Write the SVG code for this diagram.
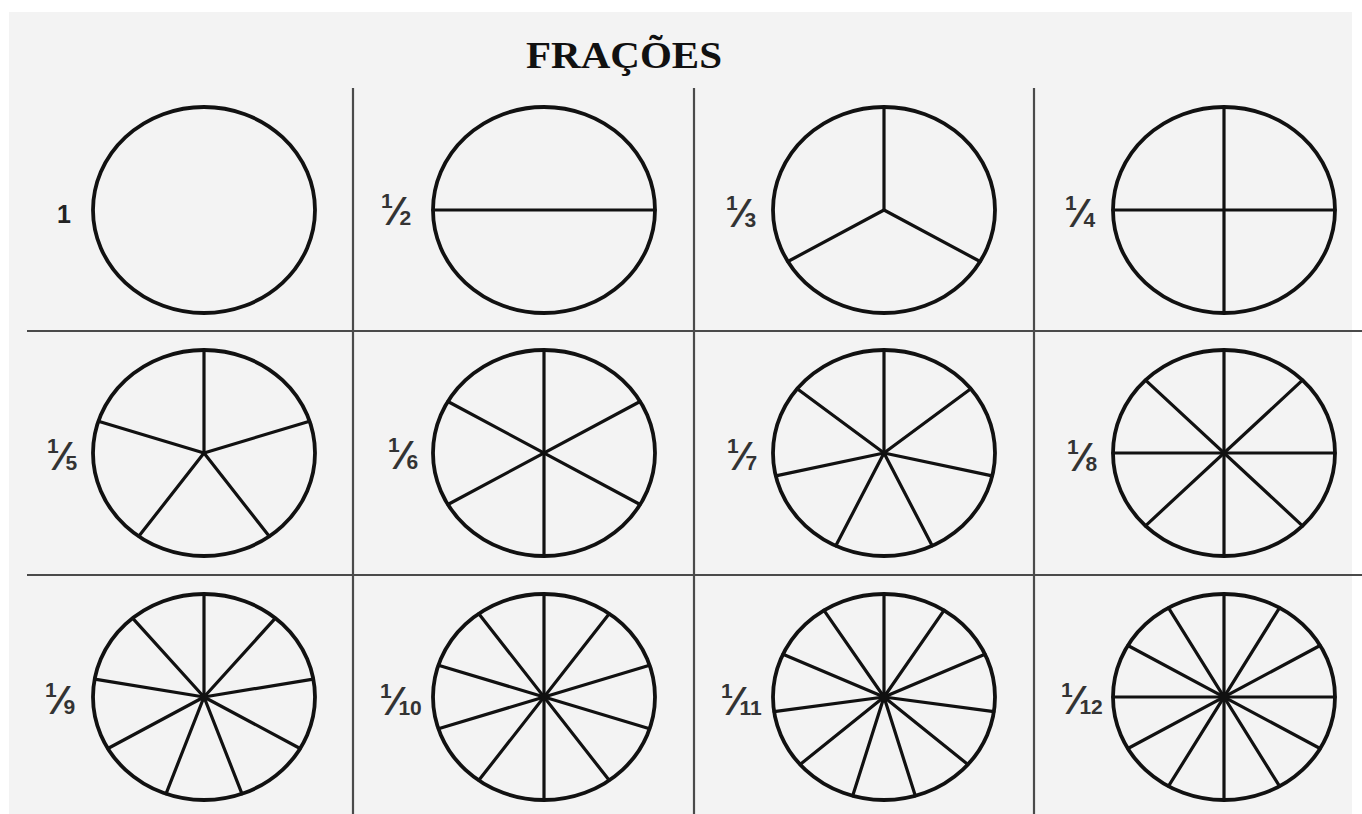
<svg xmlns="http://www.w3.org/2000/svg" width="1362" height="814" viewBox="0 0 1362 814">
<style>
.bg{fill:#f3f3f3}
.grid{stroke:#4a4a4a;stroke-width:2.2;fill:none}
.pie{fill:none;stroke:#111;stroke-width:3.8}
.sp{stroke:#111;stroke-width:3.2;stroke-linecap:round}
.title{font-family:"Liberation Serif",serif;font-weight:bold;font-size:38px;fill:#111}
.one{font-family:"Liberation Sans",sans-serif;font-weight:bold;font-size:25px;fill:#222}
.lbl{font-family:"Liberation Sans",sans-serif;font-weight:bold;font-size:21px;fill:#333}
.sl{font-size:40px}
</style>
<rect width="1362" height="814" fill="#ffffff"/>
<rect class="bg" x="9" y="12" width="1343" height="802"/>
<text class="title" x="624" y="68" text-anchor="middle" textLength="196" lengthAdjust="spacingAndGlyphs">FRAÇÕES</text>
<g id="grid">
<line class="grid" x1="353" y1="88" x2="353" y2="814"/>
<line class="grid" x1="694" y1="88" x2="694" y2="814"/>
<line class="grid" x1="1034" y1="88" x2="1034" y2="814"/>
<line class="grid" x1="27" y1="331" x2="1362" y2="331"/>
<line class="grid" x1="27" y1="575" x2="1362" y2="575"/>
</g>
<g id="n1">
<ellipse class="pie" cx="204" cy="210" rx="111" ry="103"/>
<text class="one" x="57" y="223">1</text>
</g>
<g id="n2">
<ellipse class="pie" cx="544" cy="210" rx="111" ry="103"/>
<line class="sp" x1="433" y1="210" x2="655" y2="210"/>
<text class="lbl" x="381" y="208">1<tspan class="sl" dy="17">⁄</tspan><tspan dy="0">2</tspan></text>
</g>
<g id="n3">
<ellipse class="pie" cx="884" cy="210" rx="111" ry="103"/>
<line class="sp" x1="884" y1="210" x2="884" y2="107"/>
<line class="sp" x1="884" y1="210" x2="787.9" y2="261.5"/>
<line class="sp" x1="884" y1="210" x2="980.1" y2="261.5"/>
<text class="lbl" x="726" y="210">1<tspan class="sl" dy="17">⁄</tspan><tspan dy="0">3</tspan></text>
</g>
<g id="n4">
<ellipse class="pie" cx="1224" cy="210" rx="111" ry="103"/>
<line class="sp" x1="1113" y1="210" x2="1335" y2="210"/>
<line class="sp" x1="1224" y1="107" x2="1224" y2="313"/>
<text class="lbl" x="1065" y="210">1<tspan class="sl" dy="17">⁄</tspan><tspan dy="0">4</tspan></text>
</g>
<g id="n5">
<ellipse class="pie" cx="204" cy="453" rx="111" ry="103"/>
<line class="sp" x1="204" y1="453" x2="204" y2="350"/>
<line class="sp" x1="204" y1="453" x2="98.4" y2="421.2"/>
<line class="sp" x1="204" y1="453" x2="138.8" y2="536.3"/>
<line class="sp" x1="204" y1="453" x2="269.2" y2="536.3"/>
<line class="sp" x1="204" y1="453" x2="309.6" y2="421.2"/>
<text class="lbl" x="47" y="453">1<tspan class="sl" dy="17">⁄</tspan><tspan dy="0">5</tspan></text>
</g>
<g id="n6">
<ellipse class="pie" cx="544" cy="453" rx="111" ry="103"/>
<line class="sp" x1="544" y1="350" x2="544" y2="556"/>
<line class="sp" x1="640.1" y1="401.5" x2="447.9" y2="504.5"/>
<line class="sp" x1="447.9" y1="401.5" x2="640.1" y2="504.5"/>
<text class="lbl" x="388" y="452">1<tspan class="sl" dy="17">⁄</tspan><tspan dy="0">6</tspan></text>
</g>
<g id="n7">
<ellipse class="pie" cx="884" cy="453" rx="111" ry="103"/>
<line class="sp" x1="884" y1="453" x2="884" y2="350"/>
<line class="sp" x1="884" y1="453" x2="797.2" y2="388.8"/>
<line class="sp" x1="884" y1="453" x2="775.8" y2="475.9"/>
<line class="sp" x1="884" y1="453" x2="835.8" y2="545.8"/>
<line class="sp" x1="884" y1="453" x2="932.2" y2="545.8"/>
<line class="sp" x1="884" y1="453" x2="992.2" y2="475.9"/>
<line class="sp" x1="884" y1="453" x2="970.8" y2="388.8"/>
<text class="lbl" x="727" y="453">1<tspan class="sl" dy="17">⁄</tspan><tspan dy="0">7</tspan></text>
</g>
<g id="n8">
<ellipse class="pie" cx="1224" cy="453" rx="111" ry="103"/>
<line class="sp" x1="1113" y1="453" x2="1335" y2="453"/>
<line class="sp" x1="1224" y1="350" x2="1224" y2="556"/>
<line class="sp" x1="1302.5" y1="380.2" x2="1145.5" y2="525.8"/>
<line class="sp" x1="1145.5" y1="380.2" x2="1302.5" y2="525.8"/>
<text class="lbl" x="1067" y="454">1<tspan class="sl" dy="17">⁄</tspan><tspan dy="0">8</tspan></text>
</g>
<g id="n9">
<ellipse class="pie" cx="204" cy="697" rx="111" ry="103"/>
<line class="sp" x1="204" y1="697" x2="204" y2="594"/>
<line class="sp" x1="204" y1="697" x2="132.6" y2="618.1"/>
<line class="sp" x1="204" y1="697" x2="94.7" y2="679.1"/>
<line class="sp" x1="204" y1="697" x2="107.9" y2="748.5"/>
<line class="sp" x1="204" y1="697" x2="166" y2="793.8"/>
<line class="sp" x1="204" y1="697" x2="242" y2="793.8"/>
<line class="sp" x1="204" y1="697" x2="300.1" y2="748.5"/>
<line class="sp" x1="204" y1="697" x2="313.3" y2="679.1"/>
<line class="sp" x1="204" y1="697" x2="275.4" y2="618.1"/>
<circle cx="204" cy="697" r="4" fill="#111"/>
<text class="lbl" x="45" y="697">1<tspan class="sl" dy="17">⁄</tspan><tspan dy="0">9</tspan></text>
</g>
<g id="n10">
<ellipse class="pie" cx="544" cy="697" rx="111" ry="103"/>
<line class="sp" x1="544" y1="594" x2="544" y2="800"/>
<line class="sp" x1="649.6" y1="665.2" x2="438.4" y2="728.8"/>
<line class="sp" x1="609.2" y1="613.7" x2="478.8" y2="780.3"/>
<line class="sp" x1="478.8" y1="613.7" x2="609.2" y2="780.3"/>
<line class="sp" x1="438.4" y1="665.2" x2="649.6" y2="728.8"/>
<circle cx="544" cy="697" r="4" fill="#111"/>
<text class="lbl" x="380" y="698">1<tspan class="sl" dy="17">⁄</tspan><tspan dy="0">10</tspan></text>
</g>
<g id="n11">
<ellipse class="pie" cx="884" cy="697" rx="111" ry="103"/>
<line class="sp" x1="884" y1="697" x2="884" y2="594"/>
<line class="sp" x1="884" y1="697" x2="824" y2="610.3"/>
<line class="sp" x1="884" y1="697" x2="783" y2="654.2"/>
<line class="sp" x1="884" y1="697" x2="774.1" y2="711.7"/>
<line class="sp" x1="884" y1="697" x2="800.1" y2="764.5"/>
<line class="sp" x1="884" y1="697" x2="852.7" y2="795.8"/>
<line class="sp" x1="884" y1="697" x2="915.3" y2="795.8"/>
<line class="sp" x1="884" y1="697" x2="967.9" y2="764.5"/>
<line class="sp" x1="884" y1="697" x2="993.9" y2="711.7"/>
<line class="sp" x1="884" y1="697" x2="985" y2="654.2"/>
<line class="sp" x1="884" y1="697" x2="944" y2="610.3"/>
<circle cx="884" cy="697" r="5" fill="#111"/>
<text class="lbl" x="721" y="698">1<tspan class="sl" dy="17">⁄</tspan><tspan dy="0">11</tspan></text>
</g>
<g id="n12">
<ellipse class="pie" cx="1224" cy="697" rx="111" ry="103"/>
<line class="sp" x1="1113" y1="697" x2="1335" y2="697"/>
<line class="sp" x1="1224" y1="594" x2="1224" y2="800"/>
<line class="sp" x1="1320.1" y1="645.5" x2="1127.9" y2="748.5"/>
<line class="sp" x1="1279.5" y1="607.8" x2="1168.5" y2="786.2"/>
<line class="sp" x1="1168.5" y1="607.8" x2="1279.5" y2="786.2"/>
<line class="sp" x1="1127.9" y1="645.5" x2="1320.1" y2="748.5"/>
<circle cx="1224" cy="697" r="5" fill="#111"/>
<text class="lbl" x="1061" y="697">1<tspan class="sl" dy="17">⁄</tspan><tspan dy="0">12</tspan></text>
</g>
</svg>
